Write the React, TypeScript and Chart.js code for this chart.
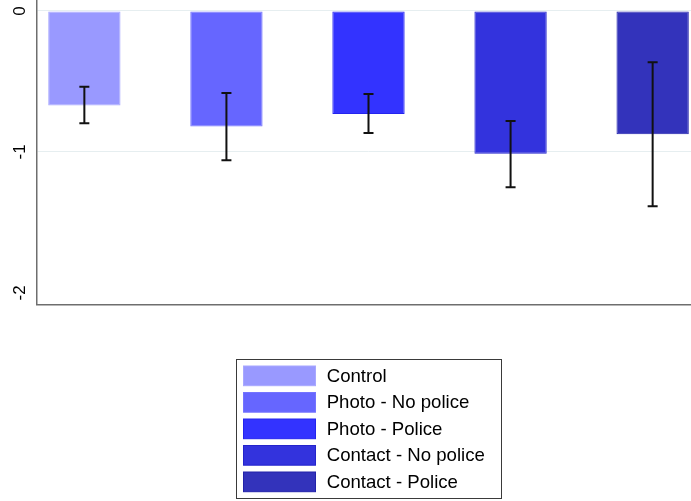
import React, { useEffect, useRef } from "react";
import { Chart, registerables } from "chart.js";

Chart.register(...registerables);

// ---- data ----
const categories = [
  "Control",
  "Photo - No police",
  "Photo - Police",
  "Contact - No police",
  "Contact - Police",
];
const positions = [1, 2, 3, 4, 5];
const means = [-0.67, -0.82, -0.73, -1.012, -0.875];
const ciUpper = [-0.537, -0.582, -0.589, -0.78, -0.364];
const ciLower = [-0.796, -1.059, -0.865, -1.25, -1.385];
const yTicks = [0, -1, -2];

const fillColors = ["#9999ff", "#6666ff", "#3333ff", "#3333dd", "#3333bb"];
const edgeColors = ["#a8a8ff", "#7474ff", "#2424ee", "#2424cc", "#2222aa"];

const errorBarPlugin = {
  id: "errorBars",
  afterDatasetsDraw(chart: any) {
    const { ctx, scales } = chart;
    const xs = scales.x;
    const ys = scales.y;
    ctx.save();
    ctx.strokeStyle = "#111111";
    ctx.lineWidth = 2;
    for (let i = 0; i < positions.length; i++) {
      const x = xs.getPixelForValue(positions[i]);
      const yt = ys.getPixelForValue(ciUpper[i]);
      const yb = ys.getPixelForValue(ciLower[i]);
      const cap = 5;
      ctx.beginPath();
      ctx.moveTo(x, yt);
      ctx.lineTo(x, yb);
      ctx.moveTo(x - cap, yt);
      ctx.lineTo(x + cap, yt);
      ctx.moveTo(x - cap, yb);
      ctx.lineTo(x + cap, yb);
      ctx.stroke();
    }
    ctx.restore();
  },
};

const boxLegendPlugin = {
  id: "boxLegend",
  afterDraw(chart: any) {
    const { ctx, chartArea } = chart;
    const cx = (chartArea.left + chartArea.right) / 2;
    const boxW = 265;
    const boxH = 139;
    const left = cx - boxW / 2;
    const top = chartArea.bottom + 54.5;
    ctx.save();
    ctx.fillStyle = "#ffffff";
    ctx.fillRect(left, top, boxW, boxH);
    ctx.strokeStyle = "#3a3a3a";
    ctx.lineWidth = 1;
    ctx.strokeRect(Math.round(left) + 0.5, Math.round(top) + 0.5, boxW, boxH);
    ctx.font = '18.6px "Liberation Sans", Arial, sans-serif';
    ctx.textBaseline = "middle";
    ctx.textAlign = "left";
    for (let i = 0; i < categories.length; i++) {
      const sy = top + 7 + i * 26.5;
      ctx.fillStyle = fillColors[i];
      ctx.fillRect(left + 7.5, sy, 72, 19.7);
      ctx.strokeStyle = edgeColors[i];
      ctx.strokeRect(left + 7.5, sy, 72, 19.7);
      ctx.fillStyle = "#000000";
      ctx.fillText(categories[i], left + 90.7, sy + 10.5);
    }
    ctx.restore();
  },
};

export default function App() {
  const ref = useRef<HTMLCanvasElement | null>(null);

  useEffect(() => {
    if (!ref.current) return;
    Chart.defaults.font.family = '"Liberation Sans", Arial, sans-serif';
    const chart = new Chart(ref.current, {
      type: "bar",
      data: {
        datasets: [
          {
            label: "mean",
            data: positions.map((p, i) => ({ x: p, y: means[i] })),
            backgroundColor: fillColors,
            borderColor: edgeColors,
            borderWidth: 1,
            borderSkipped: false,
            categoryPercentage: 1,
            barPercentage: 0.509,
          },
        ],
      },
      options: {
        responsive: false,
        animation: false,
        events: [],
        layout: { padding: { top: 30, right: 20, bottom: 196.5, left: 0 } },
        plugins: {
          legend: { display: false },
          tooltip: { enabled: false },
        },
        scales: {
          x: {
            type: "linear",
            min: 2 / 3,
            max: 16 / 3,
            offset: false,
            afterBuildTicks: (scale: any) => {
              scale.ticks = positions.map((v) => ({ value: v }));
            },
            ticks: { display: false },
            grid: { display: false, drawTicks: false, offset: false },
            border: { display: true, color: "#6e6e6e", width: 1.5 },
          },
          y: {
            type: "linear",
            min: -2.082,
            max: 0.078,
            afterBuildTicks: (scale: any) => {
              scale.ticks = yTicks.map((v) => ({ value: v }));
            },
            afterFit: (scale: any) => {
              scale.width = 37;
            },
            ticks: {
              minRotation: 90,
              maxRotation: 90,
              crossAlign: "center",
              padding: 9.5,
              color: "#000000",
              font: { size: 17 },
              callback: (v: any) => String(v),
            },
            grid: {
              drawTicks: false,
              lineWidth: 1,
              color: (c: any) =>
                c.tick && c.tick.value === -2 ? "rgba(0,0,0,0)" : "#e6eef0",
            },
            border: { display: true, color: "#6e6e6e", width: 1.5 },
          },
        },
      },
      plugins: [errorBarPlugin, boxLegendPlugin],
    } as any);
    return () => chart.destroy();
  }, []);

  return (
    <div
      style={{
        position: "fixed",
        left: 0,
        top: 0,
        width: "691px",
        height: "501px",
        overflow: "hidden",
        background: "#ffffff",
      }}
    >
      <canvas
        ref={ref}
        width={720}
        height={531}
        style={{ position: "absolute", left: 0, top: -30, width: "720px", height: "531px" }}
      />
    </div>
  );
}
